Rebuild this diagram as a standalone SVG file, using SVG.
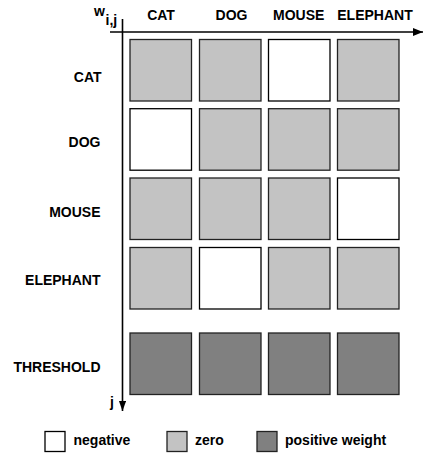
<svg xmlns="http://www.w3.org/2000/svg" width="426" height="455" viewBox="0 0 426 455">
<style>
text{font-family:"Liberation Sans",Arial,sans-serif;font-weight:bold;font-size:14px;fill:#000}
.n{fill:#fff;stroke:#000;stroke-width:1.3}
.z{fill:#c3c3c3;stroke:#222;stroke-width:1.3}
.p{fill:#808080;stroke:#222;stroke-width:1.3}
.ax{stroke:#000;stroke-width:1.6;fill:none}
</style>
<defs>
<marker id="ah" viewBox="0 0 10 10" refX="10" refY="5" markerWidth="10" markerHeight="10" markerUnits="userSpaceOnUse" orient="auto">
<path d="M0,1 L10,5 L0,9 Z" fill="#000"/>
</marker>
<marker id="av" viewBox="0 0 10 14" refX="14" refY="5" markerWidth="14" markerHeight="10" markerUnits="userSpaceOnUse" orient="auto">
<path d="M0,0 L14,5 L0,10 Z" fill="#000"/>
</marker>
</defs>
<g id="connectors">
<line class="ax" x1="110" y1="32" x2="423" y2="32" marker-end="url(#ah)"/>
<line class="ax" x1="122.5" y1="19" x2="122.5" y2="411" marker-end="url(#av)"/>
</g>
<g id="axis-labels">
<text x="94" y="16" font-size="11">w</text>
<text x="105.5" y="25" font-size="12">i,j</text>
<text x="110" y="407" font-size="13">j</text>
</g>
<g id="col-labels" text-anchor="middle">
<text x="161" y="20">CAT</text>
<text x="231.5" y="20">DOG</text>
<text x="298.7" y="20">MOUSE</text>
<text x="375" y="20">ELEPHANT</text>
</g>
<g id="row-labels" text-anchor="end">
<text x="101.5" y="82">CAT</text>
<text x="100.5" y="146.5">DOG</text>
<text x="100.5" y="216.5">MOUSE</text>
<text x="100.5" y="285">ELEPHANT</text>
<text x="100.5" y="371.5">THRESHOLD</text>
</g>
<g id="row-cat">
<rect class="z" x="130" y="39.5" width="61.5" height="61.5"/>
<rect class="z" x="199.5" y="39.5" width="61.5" height="61.5"/>
<rect class="n" x="268.5" y="39.5" width="61.5" height="61.5"/>
<rect class="z" x="337.5" y="39.5" width="61.5" height="61.5"/>
</g>
<g id="row-dog">
<rect class="n" x="130" y="108.7" width="61.5" height="61.5"/>
<rect class="z" x="199.5" y="108.7" width="61.5" height="61.5"/>
<rect class="z" x="268.5" y="108.7" width="61.5" height="61.5"/>
<rect class="z" x="337.5" y="108.7" width="61.5" height="61.5"/>
</g>
<g id="row-mouse">
<rect class="z" x="130" y="178" width="61.5" height="61.5"/>
<rect class="z" x="199.5" y="178" width="61.5" height="61.5"/>
<rect class="z" x="268.5" y="178" width="61.5" height="61.5"/>
<rect class="n" x="337.5" y="178" width="61.5" height="61.5"/>
</g>
<g id="row-elephant">
<rect class="z" x="130" y="247.5" width="61.5" height="61.5"/>
<rect class="n" x="199.5" y="247.5" width="61.5" height="61.5"/>
<rect class="z" x="268.5" y="247.5" width="61.5" height="61.5"/>
<rect class="z" x="337.5" y="247.5" width="61.5" height="61.5"/>
</g>
<g id="row-threshold">
<rect class="p" x="130" y="333" width="61.5" height="61.5"/>
<rect class="p" x="199.5" y="333" width="61.5" height="61.5"/>
<rect class="p" x="268.5" y="333" width="61.5" height="61.5"/>
<rect class="p" x="337.5" y="333" width="61.5" height="61.5"/>
</g>
<g id="legend">
<rect class="n" x="45" y="431.5" width="20" height="20"/>
<text x="73.5" y="445">negative</text>
<rect class="z" x="167" y="431.5" width="20" height="20"/>
<text x="195" y="445">zero</text>
<rect class="p" x="257" y="431.5" width="20" height="20"/>
<text x="285" y="445">positive weight</text>
</g>
</svg>
